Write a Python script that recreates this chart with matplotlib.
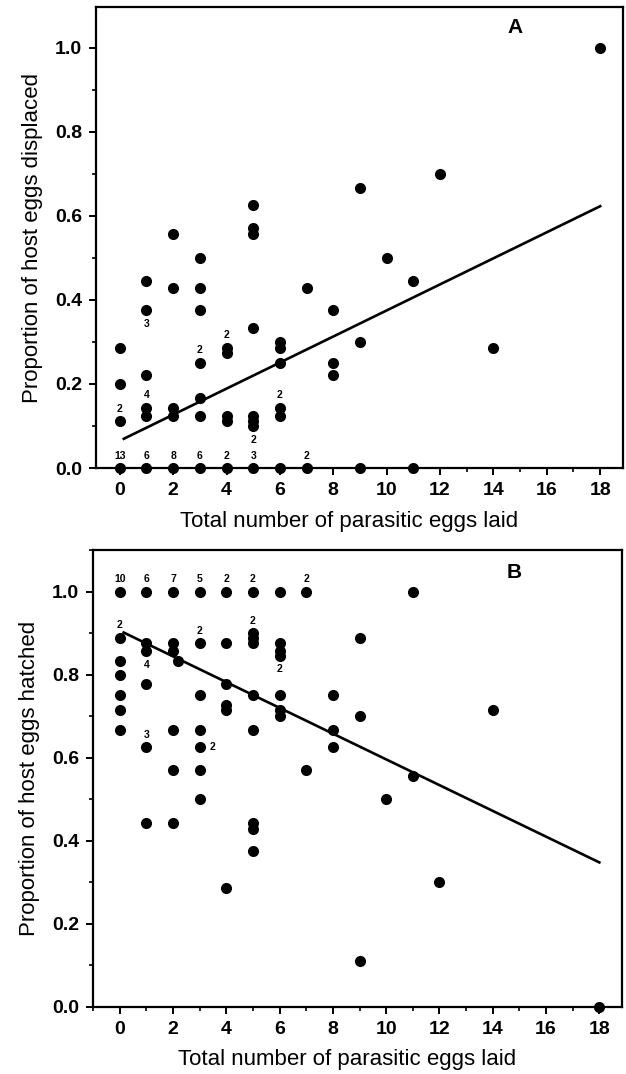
import matplotlib
matplotlib.use('Agg')
import matplotlib.pyplot as plt
from matplotlib.ticker import MultipleLocator
import numpy as np

plt.rcParams['font.family'] = ['Liberation Sans', 'DejaVu Sans']

# Panel A: proportion of host eggs displaced
eggs_a = [0, 0, 0, 0,
          1, 1, 1, 1, 1, 1,
          2, 2, 2, 2, 2,
          3, 3, 3, 3, 3, 3, 3,
          4, 4, 4, 4, 4,
          5, 5, 5, 5, 5, 5, 5, 5,
          6, 6, 6, 6, 6, 6,
          7, 7,
          8, 8, 8,
          9, 9, 9,
          10,
          11, 11,
          12, 14, 18]
displaced = [0.286, 0.2, 0.111, 0,
             0.444, 0.375, 0.222, 0.143, 0.125, 0,
             0.556, 0.429, 0.143, 0.125, 0,
             0.5, 0.429, 0.375, 0.25, 0.167, 0.125, 0,
             0.286, 0.273, 0.125, 0.111, 0,
             0.625, 0.571, 0.556, 0.333, 0.125, 0.111, 0.1, 0,
             0.3, 0.286, 0.25, 0.143, 0.125, 0,
             0.429, 0,
             0.375, 0.25, 0.222,
             0.667, 0.3, 0,
             0.5,
             0.444, 0,
             0.7, 0.286, 1.0]

# count labels for overlapping points: x, y, text, where
labels_a = [(0, 0, '13', 'above'), (1, 0, '6', 'above'), (2, 0, '8', 'above'),
            (3, 0, '6', 'above'), (4, 0, '2', 'above'), (5, 0, '3', 'above'),
            (7, 0, '2', 'above'),
            (0, 0.111, '2', 'above'), (1, 0.143, '4', 'above'),
            (1, 0.375, '3', 'below'), (3, 0.25, '2', 'above'),
            (4, 0.286, '2', 'above'), (5, 0.1, '2', 'below'),
            (6, 0.143, '2', 'above')]

fit_a = (0.065, 0.031)   # intercept, slope

# Panel B: proportion of host eggs hatched
eggs_b = [0, 0, 0, 0, 0, 0, 0,
          1, 1, 1, 1, 1, 1,
          2, 2, 2, 2.2, 2, 2, 2,
          3, 3, 3, 3, 3, 3, 3,
          4, 4, 4, 4, 4, 4,
          5, 5, 5, 5, 5, 5, 5, 5, 5,
          6, 6, 6, 6, 6, 6, 6,
          7, 7,
          8, 8, 8,
          9, 9, 9,
          10,
          11, 11,
          12, 14, 18]
hatched = [1.0, 0.889, 0.833, 0.8, 0.75, 0.714, 0.667,
           1.0, 0.875, 0.857, 0.778, 0.625, 0.444,
           1.0, 0.875, 0.857, 0.833, 0.667, 0.571, 0.444,
           1.0, 0.875, 0.75, 0.667, 0.625, 0.571, 0.5,
           1.0, 0.875, 0.778, 0.727, 0.714, 0.286,
           1.0, 0.9, 0.889, 0.875, 0.75, 0.667, 0.444, 0.429, 0.375,
           1.0, 0.875, 0.857, 0.846, 0.75, 0.714, 0.7,
           1.0, 0.571,
           0.75, 0.667, 0.625,
           0.889, 0.7, 0.111,
           0.5,
           1.0, 0.556,
           0.3, 0.714, 0.0]

labels_b = [(0, 1.0, '10', 'above'), (1, 1.0, '6', 'above'), (2, 1.0, '7', 'above'),
            (3, 1.0, '5', 'above'), (4, 1.0, '2', 'above'), (5, 1.0, '2', 'above'),
            (7, 1.0, '2', 'above'),
            (0, 0.889, '2', 'above'), (1, 0.857, '4', 'below'),
            (1, 0.625, '3', 'above'), (3, 0.875, '2', 'above'),
            (3, 0.625, '2', 'right'), (5, 0.9, '2', 'above'),
            (6, 0.846, '2', 'below')]

fit_b = (0.906, -0.031)

offsets = {'above': (0, 9), 'below': (0, -10), 'right': (9, 0)}


def panel(ax, x, y, labels, fit, letter, ylabel, ymax, xmin, ylab_x, xlab_y):
    ax.scatter(x, y, s=64, color='black', zorder=3, clip_on=False, linewidths=0)
    xs = np.array([0.15, 18])
    ax.plot(xs, fit[0] + fit[1] * xs, color='black', lw=1.9, zorder=4)
    for lx, ly, txt, where in labels:
        ax.annotate(txt, (lx, ly), xytext=offsets[where], textcoords='offset points',
                    ha='center', va='center', fontsize=7.5, fontweight='bold')
    ax.text(14.8, 1.047, letter, ha='center', va='center', fontsize=15, fontweight='bold')
    ax.set_xlim(xmin, 18.85)
    ax.set_ylim(0, ymax)
    ax.xaxis.set_major_locator(MultipleLocator(2))
    ax.xaxis.set_minor_locator(MultipleLocator(1))
    ax.yaxis.set_minor_locator(MultipleLocator(0.1))
    ax.set_yticks(np.arange(0, 1.01, 0.2))
    ax.set_yticklabels(['%.1f' % v for v in np.arange(0, 1.01, 0.2)])
    ax.tick_params(which='major', direction='out', length=5, width=1.4,
                   labelsize=14, pad=5)
    ax.tick_params(which='minor', direction='out', length=3, width=1.2)
    for lab in ax.get_xticklabels() + ax.get_yticklabels():
        lab.set_fontweight('bold')
    for sp in ax.spines.values():
        sp.set_linewidth(1.6)
    ax.set_xlabel('Total number of parasitic eggs laid', fontsize=16, va='center')
    ax.set_ylabel(ylabel, fontsize=16, va='center')
    ax.xaxis.set_label_coords(0.48, xlab_y)
    ax.yaxis.set_label_coords(ylab_x, 0.5)


fig = plt.figure(figsize=(6.26, 10.74), dpi=100)
ax1 = fig.add_axes([0.153, 0.5642, 0.842, 0.4293])
ax2 = fig.add_axes([0.1486, 0.0624, 0.845, 0.4255])

panel(ax1, eggs_a, displaced, labels_a, fit_a, 'A',
      'Proportion of host eggs displaced', 1.097, -0.9, -0.12, -0.117)
panel(ax2, eggs_b, hatched, labels_b, fit_b, 'B',
      'Proportion of host eggs hatched', 1.1, -1.0, -0.12, -0.116)

fig.savefig('out.png', dpi=100)
